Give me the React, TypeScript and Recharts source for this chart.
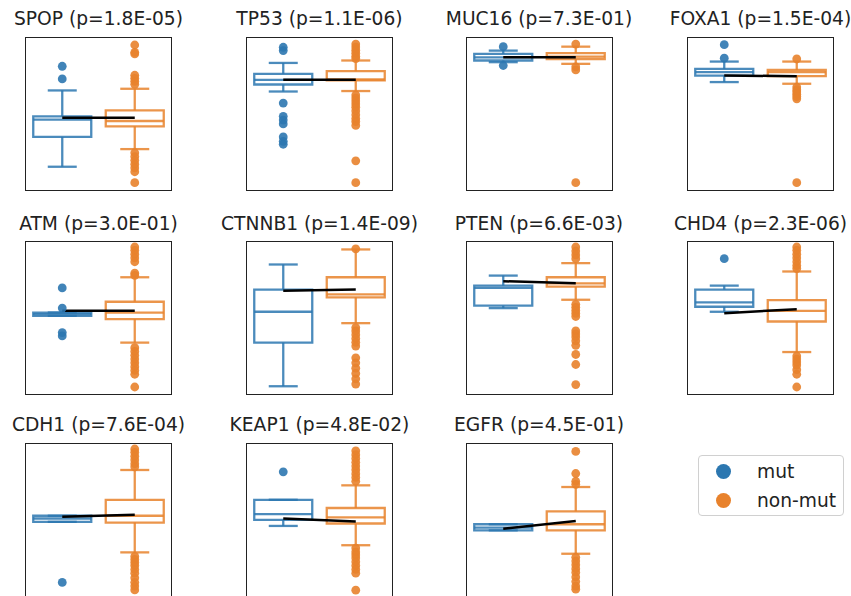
import React from 'react';
import { ComposedChart, XAxis, YAxis, ReferenceArea, ReferenceLine, Scatter } from 'recharts';

const genes = ['SPOP', 'TP53', 'MUC16', 'FOXA1', 'ATM', 'CTNNB1', 'PTEN', 'CHD4', 'CDH1', 'KEAP1', 'EGFR'];
const pValues = ['1.8E-05', '1.1E-06', '7.3E-01', '1.5E-04', '3.0E-01', '1.4E-09', '6.6E-03', '2.3E-06', '7.6E-04', '4.8E-02', '4.5E-01'];
const groupLabels = ['mut', 'non-mut'];

// values are in panel units (0 = bottom of frame, 100 = top)
const mutLow = [15.3, 64.8, 84.1, 71.0, 51.4, 5.1, 56.5, 54.1, 48.8, 46.1, 43.2];
const mutQ1 = [34.9, 69.4, 85.2, 75.3, 51.4, 33.8, 58.1, 57.4, 48.8, 50.1, 43.2];
const mutMed = [46.3, 72.5, 87.3, 77.5, 52.5, 54.1, 69.8, 60.3, 51.0, 53.9, 45.0];
const mutQ3 = [48.5, 76.4, 89.5, 79.7, 53.6, 68.7, 71.3, 68.7, 52.8, 63.3, 47.2];
const mutHigh = [65.5, 83.6, 91.7, 84.5, 53.6, 85.2, 77.9, 71.3, 52.8, 63.3, 47.2];
const mutMean = [47.6, 72.5, 87.3, 75.3, 54.7, 68.0, 74.2, 53.2, 52.1, 51.0, 44.3];
const mutOutliers = [
  [73.1, 81.4],
  [93.9, 91.7, 57.2, 48.5, 46.0, 43.5, 34.9, 32.0, 30.1],
  [94.3, 81.9],
  [95.6, 86.7],
  [69.8, 56.5, 40.4, 38.2],
  [],
  [],
  [89.0],
  [8.9],
  [81.7],
  [],
];

const nonLow = [26.9, 65.1, 83.0, 69.9, 33.8, 46.6, 62.0, 27.6, 28.7, 33.4, 27.8];
const nonQ1 = [41.9, 72.1, 86.2, 74.9, 49.2, 63.6, 70.6, 47.7, 48.3, 47.7, 43.2];
const nonMed = [45.4, 72.7, 87.8, 77.5, 53.6, 65.5, 72.8, 54.7, 52.8, 51.7, 47.2];
const nonQ3 = [52.4, 78.2, 90.0, 79.0, 60.7, 76.8, 76.8, 61.8, 63.3, 57.9, 55.7];
const nonHigh = [66.6, 85.2, 94.3, 84.5, 76.8, 95.1, 86.1, 80.6, 82.9, 72.8, 71.7];
const nonMean = [47.6, 72.5, 87.3, 74.9, 54.7, 68.7, 72.8, 55.8, 53.5, 49.0, 49.4];
const nonOutliers = [
  [95.4, 90.6, 89.5, 75.5, 73.5, 71.5, 69.5, 24.5, 22.0, 19.5, 17.0, 14.5, 12.0, 4.8],
  [96.0, 94.0, 92.0, 90.0, 88.0, 86.5, 62.5, 60.5, 58.5, 56.5, 54.5, 52.0, 49.5, 47.0, 45.0, 42.5, 19.2, 4.8],
  [96.0, 81.0, 79.0, 4.8],
  [86.2, 67.7, 66.0, 64.5, 63.0, 61.5, 60.0, 4.8],
  [96.7, 94.5, 92.0, 89.5, 87.0, 79.5, 78.0, 30.5, 28.0, 25.5, 23.0, 20.5, 18.0, 15.5, 13.0, 4.6],
  [95.5, 43.7, 41.5, 39.0, 36.5, 34.0, 31.5, 23.8, 20.5, 17.0, 13.5, 10.0, 6.5],
  [96.7, 94.0, 91.5, 89.0, 59.0, 57.0, 55.0, 53.0, 51.0, 41.5, 39.5, 37.5, 35.0, 32.0, 26.0, 19.4, 6.2],
  [96.7, 94.5, 92.0, 89.5, 87.0, 84.5, 82.5, 25.0, 23.0, 21.0, 19.0, 16.0, 13.0, 4.6],
  [96.7, 94.5, 92.0, 89.5, 87.0, 85.0, 26.0, 24.0, 22.0, 20.0, 17.5, 15.0, 12.0, 9.0, 6.5, 4.0],
  [95.5, 93.0, 90.5, 88.0, 85.5, 83.0, 80.5, 78.0, 75.5, 31.5, 29.0, 27.0, 25.0, 22.5, 20.0, 17.5, 15.0, 3.8],
  [95.1, 80.6, 75.5, 73.5, 25.5, 23.0, 20.5, 18.0, 15.5, 12.5, 9.5, 6.5, 4.5],
];

const COLORS = ['#2c77b0', '#e8822c'];
const FONT = "'DejaVu Sans', sans-serif";
const PW = 145;
const PH = 152;
const COL_LEFT = [26, 247, 466.5, 688];
const ROW_TOP = [37.5, 242, 443.5];

function Panel({ i }: { i: number }) {
  const groups = [
    { pos: 1, color: COLORS[0], lo: mutLow[i], q1: mutQ1[i], med: mutMed[i], q3: mutQ3[i], hi: mutHigh[i], out: mutOutliers[i] },
    { pos: 2, color: COLORS[1], lo: nonLow[i], q1: nonQ1[i], med: nonMed[i], q3: nonQ3[i], hi: nonHigh[i], out: nonOutliers[i] },
  ];
  const half = 0.4;
  const cap = 0.2;
  const lineProps = { strokeWidth: 2.3, strokeOpacity: 0.85, ifOverflow: 'visible' as const };
  return (
    <ComposedChart width={PW} height={PH} margin={{ top: 0, right: 0, bottom: 0, left: 0 }}>
      <XAxis type="number" dataKey="x" domain={[0.5, 2.5]} hide allowDataOverflow />
      <YAxis type="number" dataKey="y" domain={[0, 100]} hide allowDataOverflow />
      {groups.map((g) => (
        <React.Fragment key={g.pos}>
          <ReferenceArea x1={g.pos - half} x2={g.pos + half} y1={g.q1} y2={g.q3} fill="none" fillOpacity={0} stroke={g.color} {...lineProps} />
          <ReferenceLine segment={[{ x: g.pos - half, y: g.med }, { x: g.pos + half, y: g.med }]} stroke={g.color} {...lineProps} />
          <ReferenceLine segment={[{ x: g.pos, y: g.q3 }, { x: g.pos, y: g.hi }]} stroke={g.color} {...lineProps} />
          <ReferenceLine segment={[{ x: g.pos, y: g.q1 }, { x: g.pos, y: g.lo }]} stroke={g.color} {...lineProps} />
          <ReferenceLine segment={[{ x: g.pos - cap, y: g.hi }, { x: g.pos + cap, y: g.hi }]} stroke={g.color} {...lineProps} />
          <ReferenceLine segment={[{ x: g.pos - cap, y: g.lo }, { x: g.pos + cap, y: g.lo }]} stroke={g.color} {...lineProps} />
        </React.Fragment>
      ))}
      {groups.map((g) => (
        <Scatter
          key={'s' + g.pos}
          data={g.out.map((v) => ({ x: g.pos, y: v }))}
          isAnimationActive={false}
          shape={(p: any) => <circle cx={p.cx} cy={p.cy} r={4.4} fill={g.color} fillOpacity={0.9} />}
        />
      ))}
      <ReferenceLine
        segment={[{ x: 1, y: mutMean[i] }, { x: 2, y: nonMean[i] }]}
        stroke="#000"
        strokeWidth={2.5}
        ifOverflow="visible"
      />
    </ComposedChart>
  );
}

export default function App() {
  return (
    <div style={{ position: 'absolute', left: 0, top: 0, width: 851, height: 596, background: '#fff', fontFamily: FONT, overflow: 'hidden' }}>
      {genes.map((g, i) => {
        const left = COL_LEFT[i % 4];
        const top = ROW_TOP[Math.floor(i / 4)];
        return (
          <React.Fragment key={g}>
            <div
              style={{
                position: 'absolute',
                left: left - 40,
                width: PW + 80,
                top: top - 27.5,
                textAlign: 'center',
                fontSize: 18.67,
                lineHeight: '18.67px',
                whiteSpace: 'nowrap',
                color: '#222',
              }}
            >
              {`${g} (p=${pValues[i]})`}
            </div>
            <div style={{ position: 'absolute', left: left - 1, top: top - 1, width: PW, height: PH, border: '1px solid #222' }}>
              <Panel i={i} />
            </div>
          </React.Fragment>
        );
      })}
      <div
        style={{
          position: 'absolute',
          left: 698,
          top: 455,
          width: 146,
          height: 61,
          border: '1px solid #d0d0d0',
          borderRadius: 4,
          boxSizing: 'border-box',
        }}
      >
        {groupLabels.map((lab, k) => (
          <div key={lab} style={{ position: 'absolute', left: 0, top: 4 + k * 29, height: 22, display: 'flex', alignItems: 'center' }}>
            <span style={{ display: 'inline-block', width: 15, height: 15, borderRadius: '50%', background: COLORS[k], marginLeft: 17 }} />
            <span style={{ marginLeft: 26, fontSize: 18.67, color: '#222' }}>{lab}</span>
          </div>
        ))}
      </div>
    </div>
  );
}
